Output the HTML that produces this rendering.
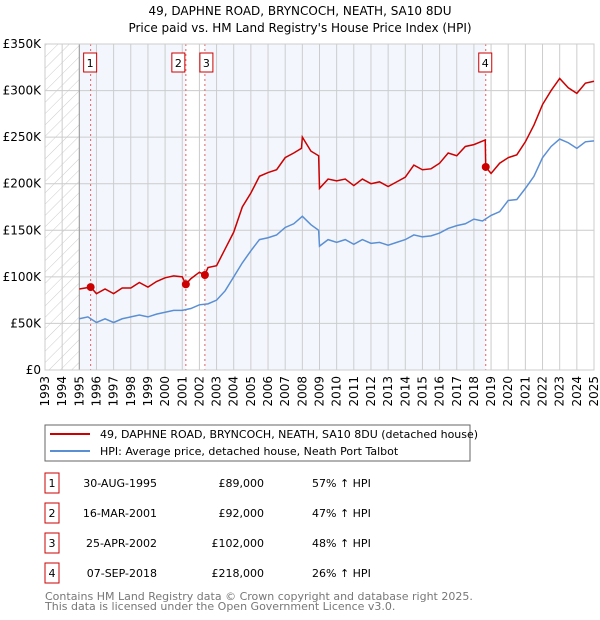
<!DOCTYPE html>
<html><head><meta charset="utf-8"><style>
body{margin:0;background:#fff;font-family:"DejaVu Sans","Liberation Sans",sans-serif}
svg{display:block}
</style></head><body>
<svg width="600" height="620" xmlns="http://www.w3.org/2000/svg" font-family="DejaVu Sans, Liberation Sans, sans-serif">
<defs><pattern id="hatch" width="8" height="8" patternUnits="userSpaceOnUse" patternTransform="rotate(45)"><line x1="0" y1="0" x2="0" y2="8" stroke="#ccc" stroke-width="1"/></pattern></defs>
<text x="300" y="15" text-anchor="middle" font-size="12">49, DAPHNE ROAD, BRYNCOCH, NEATH, SA10 8DU</text>
<text x="300" y="32" text-anchor="middle" font-size="12">Price paid vs. HM Land Registry's House Price Index (HPI)</text>
<g id="bg"></g><g id="grid"></g><g id="axes"></g><g id="series"></g><g id="markers"></g>
<rect x="45" y="425" width="425" height="36" fill="#fff" stroke="#666"/>
<line x1="50" y1="434" x2="90" y2="434" stroke="#cc0000" stroke-width="2"/>
<text x="100" y="438" font-size="11">49, DAPHNE ROAD, BRYNCOCH, NEATH, SA10 8DU (detached house)</text>
<line x1="50" y1="451" x2="90" y2="451" stroke="#5b8fd4" stroke-width="2"/>
<text x="100" y="455" font-size="11">HPI: Average price, detached house, Neath Port Talbot</text>
<g id="table" font-size="11"></g>
<text x="45" y="600" font-size="11" fill="#777">Contains HM Land Registry data © Crown copyright and database right 2025.</text>
<text x="45" y="610" font-size="11" fill="#777">This data is licensed under the Open Government Licence v3.0.</text>
</svg>
<script>
const yearTicks=[1993,1994,1995,1996,1997,1998,1999,2000,2001,2002,2003,2004,2005,2006,2007,2008,2009,2010,2011,2012,2013,2014,2015,2016,2017,2018,2019,2020,2021,2022,2023,2024,2025];
const priceTicks=[0,50,100,150,200,250,300,350];
const priceLabels=["£0","£50K","£100K","£150K","£200K","£250K","£300K","£350K"];
const hpiYears=[1995,1995.5,1996,1996.5,1997,1997.5,1998,1998.5,1999,1999.5,2000,2000.5,2001,2001.5,2002,2002.5,2003,2003.5,2004,2004.5,2005,2005.5,2006,2006.5,2007,2007.5,2008,2008.5,2008.95,2009,2009.5,2010,2010.5,2011,2011.5,2012,2012.5,2013,2013.5,2014,2014.5,2015,2015.5,2016,2016.5,2017,2017.5,2018,2018.5,2019,2019.5,2020,2020.5,2021,2021.5,2022,2022.5,2023,2023.5,2024,2024.5,2025];
const hpiValues=[55,57,51,55,51,55,57,59,57,60,62,64,64,66,70,71,75,85,100,115,128,140,142,145,153,157,165,156,150,133,140,137,140,135,140,136,137,134,137,140,145,143,144,147,152,155,157,162,160,166,170,182,183,195,208,228,240,248,244,238,245,246];
const redYears=[1995,1995.66,1996,1996.5,1997,1997.5,1998,1998.5,1999,1999.5,2000,2000.5,2001,2001.21,2001.5,2002,2002.32,2002.5,2003,2003.5,2004,2004.5,2005,2005.5,2006,2006.5,2007,2007.5,2007.95,2008,2008.5,2008.95,2009,2009.5,2010,2010.5,2011,2011.5,2012,2012.5,2013,2013.5,2014,2014.5,2015,2015.5,2016,2016.5,2017,2017.5,2018,2018.66,2018.69,2019,2019.5,2020,2020.5,2021,2021.5,2022,2022.5,2023,2023.5,2024,2024.5,2025];
const redValues=[87,89,82,87,82,88,88,94,89,95,99,101,100,92,98,105,102,110,112,130,148,175,190,208,212,215,228,233,238,250,235,230,195,205,203,205,198,205,200,202,197,202,207,220,215,216,222,233,230,240,242,247,218,211,222,228,231,245,263,285,300,313,303,297,308,310];
const saleYears=[1995.66,2001.21,2002.32,2018.69];
const saleValues=[89,92,102,218];
const saleLabels=["1","2","3","4"];
const saleDates=["30-AUG-1995","16-MAR-2001","25-APR-2002","07-SEP-2018"];
const salePrices=["£89,000","£92,000","£102,000","£218,000"];
const saleHpi=["57% ↑ HPI","47% ↑ HPI","48% ↑ HPI","26% ↑ HPI"];
const NS="http://www.w3.org/2000/svg";
const X0=45,X1=594,Y0=370,Y1=44;
const xs=y=>X0+(y-1993)/(2025-1993)*(X1-X0);
const ys=v=>Y0-v/350*(Y0-Y1);
function mk(p,t,a){const e=document.createElementNS(NS,t);for(const k in a)e.setAttribute(k,a[k]);p.appendChild(e);return e;}
const bg=document.getElementById('bg'),grid=document.getElementById('grid'),axes=document.getElementById('axes'),ser=document.getElementById('series'),mg=document.getElementById('markers'),tb=document.getElementById('table');
let r=mk(bg,'rect',{x:X0,y:Y1,width:xs(1995)-X0,height:Y0-Y1,fill:'url(#hatch)'});


const bounds=[1995].concat(saleYears).concat([2025]);
for(let i=0;i<bounds.length-1;i++){
 const sh=(i===0||i===1||i===3);
 r=mk(bg,'rect',{x:xs(bounds[i]),y:Y1,width:xs(bounds[i+1])-xs(bounds[i]),height:Y0-Y1,fill:sh?'#eef3fc':'#fff',opacity:sh?0.7:1});
 
 
}
yearTicks.forEach(y=>{
 const l=mk(grid,'line',{x1:xs(y),x2:xs(y),y1:Y1,y2:Y0,stroke:'#ccc','stroke-width':1});
 
 
 const t=mk(axes,'text',{x:0,y:0,'font-size':12,'text-anchor':'end',transform:`translate(${xs(y)+4},${Y0+6}) rotate(-90)`});
 t.textContent=y;
 
 
});
priceTicks.forEach((v,i)=>{
 const l=mk(grid,'line',{x1:X0,x2:X1,y1:ys(v),y2:ys(v),stroke:'#ccc','stroke-width':1});
 
 
 const t=mk(axes,'text',{x:X0-4,y:ys(v)+4,'font-size':12,'text-anchor':'end'});
 t.textContent=priceLabels[i];
 
 
});
let bl=mk(grid,'line',{x1:xs(1995),x2:xs(1995),y1:Y1,y2:Y0,stroke:'#999'});


saleYears.forEach(y=>{
 const l=mk(grid,'line',{x1:xs(y),x2:xs(y),y1:Y1,y2:Y0,stroke:'#e06060','stroke-dasharray':'2,3'});
 
 
});
const hp=mk(ser,'polyline',{points:hpiYears.map((y,i)=>xs(y)+','+ys(hpiValues[i])).join(' '),fill:'none',stroke:'#5b8fd4','stroke-width':1.5});


const rp=mk(ser,'polyline',{points:redYears.map((y,i)=>xs(y)+','+ys(redValues[i])).join(' '),fill:'none',stroke:'#cc0000','stroke-width':1.5});


saleYears.forEach((y,i)=>{
 const c=mk(mg,'circle',{cx:xs(y),cy:ys(saleValues[i]),r:4,fill:'#cc0000'});
 
 
 const g=mk(mg,'g',{});
 
 
 const off=(i===1?8:(i===2?-1:1));
 mk(g,'rect',{x:xs(y)-off-6,y:53,width:13,height:19,fill:'#fff',stroke:'#cc0000'});
 const t=mk(g,'text',{x:xs(y)-off+0.5,y:67,'font-size':11,'text-anchor':'middle'});
 t.textContent=saleLabels[i];
});
const ax=mk(axes,'rect',{x:X0,y:Y1,width:X1-X0,height:Y0-Y1,fill:'none',stroke:'#ccc'});


saleLabels.forEach((s,i)=>{
 const cy=483+i*30;
 const g=mk(tb,'g',{});
 
 
 mk(g,'rect',{x:45,y:cy-10,width:14,height:20,fill:'#fff',stroke:'#cc0000'});
 let t=mk(g,'text',{x:52,y:cy+4,'text-anchor':'middle'});t.textContent=s;
 t=mk(g,'text',{x:157,y:cy+4,'text-anchor':'end'});t.textContent=saleDates[i];
 t=mk(g,'text',{x:264,y:cy+4,'text-anchor':'end'});t.textContent=salePrices[i];
 t=mk(g,'text',{x:312,y:cy+4});t.textContent=saleHpi[i];
});
</script>
</body></html>
